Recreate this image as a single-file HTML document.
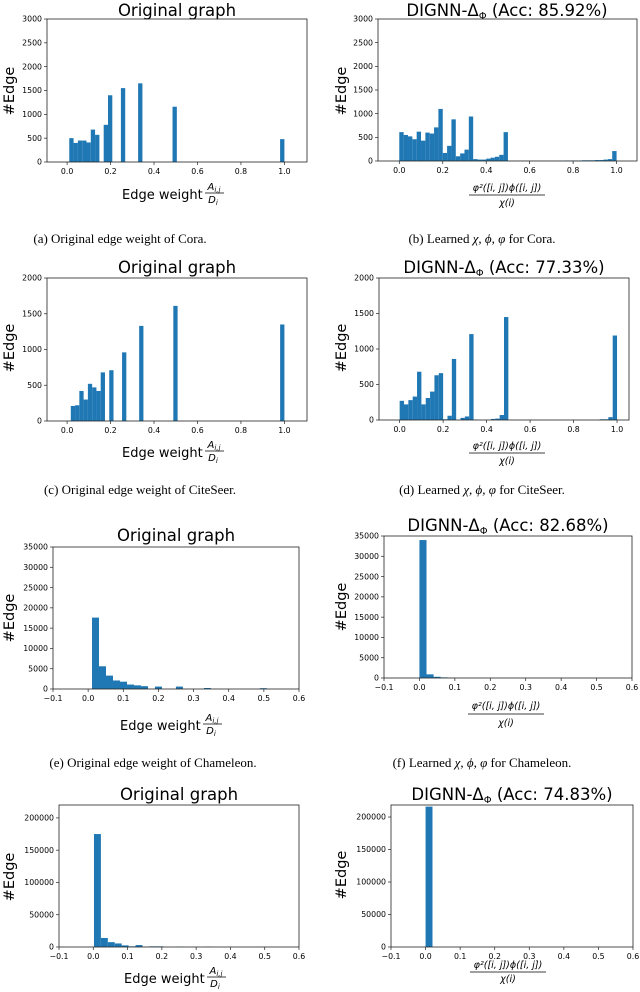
<!DOCTYPE html>
<html><head><meta charset="utf-8"><style>
body{margin:0;background:#fff;}
svg{display:block;font-family:"DejaVu Sans","Liberation Sans",sans-serif;}
.tk{font-size:7.8px;fill:#000;}
.ttl{font-size:16.5px;fill:#000;}
.yl{font-size:14.5px;fill:#000;}
.xl{font-size:13px;fill:#000;}
.fr{font-size:9.5px;font-style:italic;fill:#000;}
.fa{font-size:10px;font-style:italic;fill:#000;}
.cap{font-family:"Liberation Serif",serif;font-size:13px;fill:#000;}
</style></head><body>
<svg id="fig" width="640" height="992" viewBox="0 0 640 992" xmlns="http://www.w3.org/2000/svg">
<text class="ttl" x="177" y="16" text-anchor="middle">Original graph</text>
<text class="ttl" x="507" y="16" text-anchor="middle">DIGNN-Δ<tspan font-size="10" dy="3">Φ</tspan><tspan dy="-3"> (Acc: 85.92%)</tspan></text>
<text class="ttl" x="177" y="273" text-anchor="middle">Original graph</text>
<text class="ttl" x="504" y="273" text-anchor="middle">DIGNN-Δ<tspan font-size="10" dy="3">Φ</tspan><tspan dy="-3"> (Acc: 77.33%)</tspan></text>
<text class="ttl" x="176" y="541" text-anchor="middle">Original graph</text>
<text class="ttl" x="508" y="531" text-anchor="middle">DIGNN-Δ<tspan font-size="10" dy="3">Φ</tspan><tspan dy="-3"> (Acc: 82.68%)</tspan></text>
<text class="ttl" x="179" y="800" text-anchor="middle">Original graph</text>
<text class="ttl" x="512" y="800" text-anchor="middle">DIGNN-Δ<tspan font-size="10" dy="3">Φ</tspan><tspan dy="-3"> (Acc: 74.83%)</tspan></text>
<text class="yl" transform="translate(14,91) rotate(-90)" text-anchor="middle">#Edge</text>
<text class="yl" transform="translate(346,91) rotate(-90)" text-anchor="middle">#Edge</text>
<text class="yl" transform="translate(14,348) rotate(-90)" text-anchor="middle">#Edge</text>
<text class="yl" transform="translate(346,348) rotate(-90)" text-anchor="middle">#Edge</text>
<text class="yl" transform="translate(14,618) rotate(-90)" text-anchor="middle">#Edge</text>
<text class="yl" transform="translate(346,607) rotate(-90)" text-anchor="middle">#Edge</text>
<text class="yl" transform="translate(14,877) rotate(-90)" text-anchor="middle">#Edge</text>
<text class="yl" transform="translate(346,875) rotate(-90)" text-anchor="middle">#Edge</text>
<g><text class="xl" x="122" y="199">Edge weight</text><text class="fa" x="214" y="190" text-anchor="middle">A<tspan font-size="7" dy="2">i,j</tspan></text><line x1="205" x2="224" y1="193" y2="193" stroke="#000" stroke-width="0.7"/><text class="fa" x="213" y="203" text-anchor="middle">D<tspan font-size="7" dy="2">i</tspan></text></g>
<g><text class="xl" x="122" y="457">Edge weight</text><text class="fa" x="214" y="448" text-anchor="middle">A<tspan font-size="7" dy="2">i,j</tspan></text><line x1="205" x2="224" y1="451" y2="451" stroke="#000" stroke-width="0.7"/><text class="fa" x="213" y="461" text-anchor="middle">D<tspan font-size="7" dy="2">i</tspan></text></g>
<g><text class="xl" x="120" y="730">Edge weight</text><text class="fa" x="212" y="721" text-anchor="middle">A<tspan font-size="7" dy="2">i,j</tspan></text><line x1="203" x2="222" y1="724" y2="724" stroke="#000" stroke-width="0.7"/><text class="fa" x="211" y="734" text-anchor="middle">D<tspan font-size="7" dy="2">i</tspan></text></g>
<g><text class="xl" x="124" y="983">Edge weight</text><text class="fa" x="216" y="974" text-anchor="middle">A<tspan font-size="7" dy="2">i,j</tspan></text><line x1="207" x2="226" y1="977" y2="977" stroke="#000" stroke-width="0.7"/><text class="fa" x="215" y="987" text-anchor="middle">D<tspan font-size="7" dy="2">i</tspan></text></g>
<g><text class="fr" x="507" y="191" text-anchor="middle">φ²([i, j])ϕ([i, j])</text><line x1="469" x2="545" y1="195" y2="195" stroke="#000" stroke-width="0.8"/><text class="fr" x="507" y="206" text-anchor="middle">χ(i)</text></g>
<g><text class="fr" x="507" y="449" text-anchor="middle">φ²([i, j])ϕ([i, j])</text><line x1="469" x2="545" y1="453" y2="453" stroke="#000" stroke-width="0.8"/><text class="fr" x="507" y="464" text-anchor="middle">χ(i)</text></g>
<g><text class="fr" x="506" y="709" text-anchor="middle">φ²([i, j])ϕ([i, j])</text><line x1="468" x2="544" y1="714" y2="714" stroke="#000" stroke-width="0.8"/><text class="fr" x="506" y="726" text-anchor="middle">χ(i)</text></g>
<g><text class="fr" x="508" y="968" text-anchor="middle">φ²([i, j])ϕ([i, j])</text><line x1="470" x2="546" y1="972" y2="972" stroke="#000" stroke-width="0.8"/><text class="fr" x="508" y="982" text-anchor="middle">χ(i)</text></g>
<text class="cap" x="120" y="243" text-anchor="middle">(a) Original edge weight of Cora.</text>
<text class="cap" x="482" y="243" text-anchor="middle">(b) Learned <tspan font-style="italic">χ, ϕ, φ</tspan> for Cora.</text>
<text class="cap" x="140" y="494" text-anchor="middle">(c) Original edge weight of CiteSeer.</text>
<text class="cap" x="482" y="494" text-anchor="middle">(d) Learned <tspan font-style="italic">χ, ϕ, φ</tspan> for CiteSeer.</text>
<text class="cap" x="153" y="767" text-anchor="middle">(e) Original edge weight of Chameleon.</text>
<text class="cap" x="482" y="767" text-anchor="middle">(f) Learned <tspan font-style="italic">χ, ϕ, φ</tspan> for Chameleon.</text>
<g id="plots"></g>
</svg>
<script>
const coraOrigCounts = [500,400,450,450,410,680,570,0,780,1400,0,0,1550,0,0,0,1650,0,0,0,0,0,0,0,1160,0,0,0,0,0,0,0,0,0,0,0,0,0,0,0,0,0,0,0,0,0,0,0,0,480];
const coraOrigBins = [0.01, 0.0198];
const coraLearnCounts = [610,550,520,460,620,430,600,580,710,1100,170,320,880,100,160,240,940,40,30,30,50,70,90,130,610,5,5,5,5,5,5,5,5,5,5,5,5,5,10,10,10,10,15,15,15,20,20,30,40,210];
const coraLearnBins = [0.0, 0.02];
const citeOrigCounts = [210,220,420,300,520,470,420,680,0,710,0,0,960,0,0,0,1330,0,0,0,0,0,0,0,1610,0,0,0,0,0,0,0,0,0,0,0,0,0,0,0,0,0,0,0,0,0,0,0,0,1350];
const citeOrigBins = [0.017, 0.01966];
const citeLearnCounts = [270,220,280,330,680,220,310,400,630,660,10,60,860,0,30,50,1210,5,0,0,0,15,20,70,1450,0,0,0,0,0,0,0,0,0,0,0,0,0,0,0,0,0,0,0,0,0,10,10,40,1190];
const citeLearnBins = [0.0, 0.02];
const chamOrigCounts = [17600,5600,3300,2100,1800,1100,900,700,0,600,0,0,600,0,0,0,250,0,0,0,0,0,0,0,200];
const chamOrigBins = [0.011, 0.0199];
const chamLearnCounts = [34000,900,300,150,50];
const chamLearnBins = [0.0, 0.02];
const squOrigCounts = [175000,14000,7500,5500,2500,1000,3000,300,1000,1000,0,0,400,0,0,0,400,0,0,0,0,0,0,0,200];
const squOrigBins = [0.002, 0.0202];
const squLearnCounts = [216000];
const squLearnBins = [0.0, 0.02];
const xTicksWide = ["0.0","0.2","0.4","0.6","0.8","1.0"];
const xTicksNarrow = ["\u22120.1","0.0","0.1","0.2","0.3","0.4","0.5","0.6"];
const yTicks3000 = [0,500,1000,1500,2000,2500,3000];
const yTicks2000 = [0,500,1000,1500,2000];
const yTicks35000 = [0,5000,10000,15000,20000,25000,30000,35000];
const yTicks200k = [0,50000,100000,150000,200000];

const NS = "http://www.w3.org/2000/svg";
const root = document.getElementById('plots');
function mk(tag, attrs, parent){const e=document.createElementNS(NS,tag);for(const k in attrs)e.setAttribute(k,attrs[k]);parent.appendChild(e);return e;}

function panel(id, box, counts, bins, xTicks, yTicks){
  const g = mk('g',{},root);
  
  
  const X = v => box.L + (v - box.xmin) / (box.xmax - box.xmin) * (box.R - box.L);
  const Y = v => box.B - v / box.ymax * (box.B - box.T);
  counts.forEach((c, i) => {
    if (c <= 0) return;
    const x0 = X(bins[0] + i * bins[1]), x1 = X(bins[0] + (i + 1) * bins[1]);
    const r = mk('rect',{x:x0, y:Y(c), width:Math.max(0.6,x1-x0), height:box.B - Y(c), fill:'#1f77b4'}, g);
    
    
  });
  const f = mk('rect',{x:box.L,y:box.T,width:box.R-box.L,height:box.B-box.T,fill:'none',stroke:'#222','stroke-width':0.8},g);
  
  
  xTicks.forEach(t => {
    const v = parseFloat(t.replace('\u2212','-'));
    const x = X(v);
    mk('line',{x1:x,x2:x,y1:box.B,y2:box.B+3,stroke:'#222','stroke-width':0.7},g);
    const tx = mk('text',{x:x,y:box.B+12,'text-anchor':'middle','class':'tk'},g);
    tx.textContent = t;
    
    
  });
  yTicks.forEach(v => {
    const y = Y(v);
    mk('line',{x1:box.L-3,x2:box.L,y1:y,y2:y,stroke:'#222','stroke-width':0.7},g);
    const ty = mk('text',{x:box.L-5,y:y+2.7,'text-anchor':'end','class':'tk'},g);
    ty.textContent = String(v);
    
    
  });
}
panel('cora-original', {L:47,R:307,T:19,B:162,xmin:-0.0925,xmax:1.104,ymax:3000}, coraOrigCounts, coraOrigBins, xTicksWide, yTicks3000);
panel('cora-learned', {L:378,R:637,T:19,B:161,xmin:-0.098,xmax:1.094,ymax:3000}, coraLearnCounts, coraLearnBins, xTicksWide, yTicks3000);
panel('citeseer-original', {L:47,R:307,T:278,B:421,xmin:-0.0925,xmax:1.104,ymax:2000}, citeOrigCounts, citeOrigBins, xTicksWide, yTicks2000);
panel('citeseer-learned', {L:379,R:629,T:278,B:420,xmin:-0.095,xmax:1.055,ymax:2000}, citeLearnCounts, citeLearnBins, xTicksWide, yTicks2000);
panel('chameleon-original', {L:53,R:299,T:547,B:689,xmin:-0.1,xmax:0.6,ymax:35000}, chamOrigCounts, chamOrigBins, xTicksNarrow, yTicks35000);
panel('chameleon-learned', {L:384,R:632,T:536,B:678,xmin:-0.1,xmax:0.6,ymax:35000}, chamLearnCounts, chamLearnBins, xTicksNarrow, yTicks35000);
panel('squirrel-original', {L:59,R:299,T:805,B:947,xmin:-0.1,xmax:0.6,ymax:220000}, squOrigCounts, squOrigBins, xTicksNarrow, yTicks200k);
panel('squirrel-learned', {L:391,R:633,T:805,B:947,xmin:-0.1,xmax:0.6,ymax:218500}, squLearnCounts, squLearnBins, xTicksNarrow, yTicks200k);
</script>
</body></html>
